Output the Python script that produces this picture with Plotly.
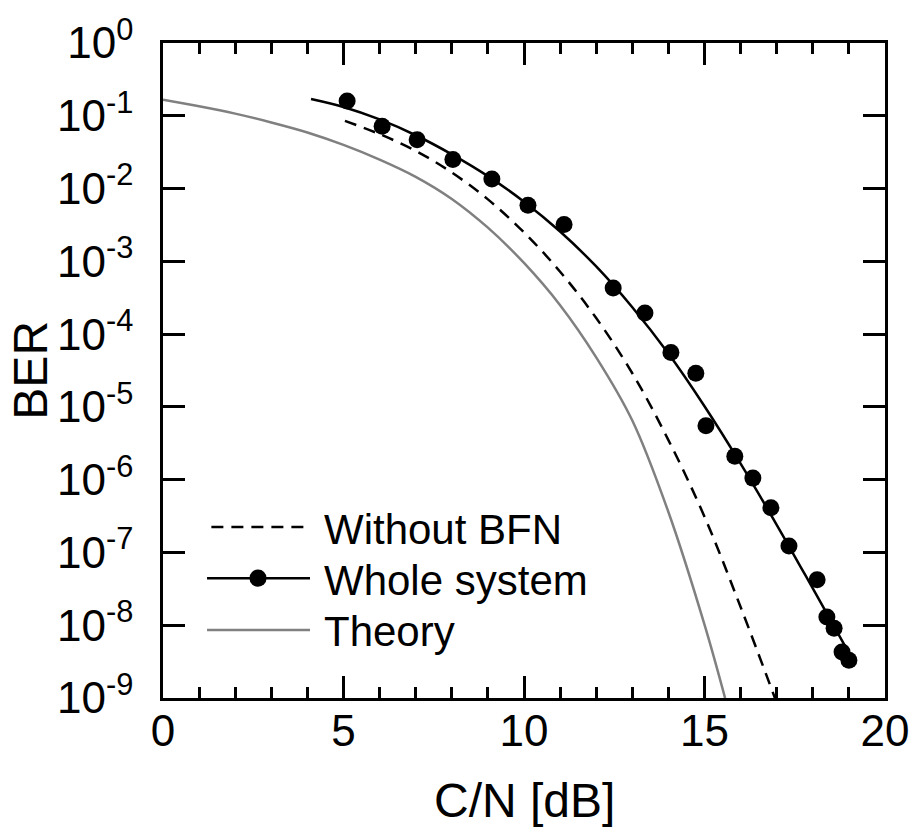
import plotly.graph_objects as go

# ---- data ----
theory_cn = [0, 1, 2, 3, 4, 5, 6, 7, 8, 9, 10, 11, 12, 13, 14, 15, 15.57]
theory_ber = [1.66e-1, 1.35e-1, 1.07e-1, 8.1e-2, 5.9e-2, 3.98e-2, 2.5e-2, 1.45e-2,
              7.2e-3, 2.9e-3, 9.5e-4, 2.5e-4, 4.8e-5, 6.5e-6, 3.6e-7, 1.02e-8, 1.0e-9]

nobfn_cn = [5.04, 6, 7, 8, 9, 10, 11, 12, 13, 14, 15, 16, 16.95]
nobfn_ber = [8.5e-2, 5.6e-2, 3.3e-2, 1.66e-2, 7.1e-3, 2.5e-3, 7.2e-4, 1.66e-4,
             2.9e-5, 3.5e-6, 3.1e-7, 1.78e-8, 1.0e-9]

whole_fit_cn = [4.1, 5, 6, 7, 8, 9, 10, 11, 12, 13, 14, 15, 16, 17, 18, 19.1]
whole_fit_ber = [1.70e-1, 1.32e-1, 8.9e-2, 5.4e-2, 2.95e-2, 1.48e-2, 6.6e-3, 2.57e-3,
                 8.5e-4, 2.34e-4, 5.4e-5, 1.02e-5, 1.66e-6, 2.4e-7, 3.2e-8, 3.4e-9]

whole_pts_cn = [5.10, 6.07, 7.04, 8.03, 9.11, 10.11, 11.11, 12.47, 13.35, 14.07, 14.76,
                15.04, 15.84, 16.34, 16.84, 17.34, 18.12, 18.39, 18.59, 18.81, 19.00]
whole_pts_ber = [1.6e-1, 7.2e-2, 4.7e-2, 2.5e-2, 1.35e-2, 5.9e-3, 3.2e-3, 4.3e-4, 1.95e-4,
                 5.6e-5, 2.9e-5, 5.5e-6, 2.1e-6, 1.05e-6, 4.1e-7, 1.23e-7, 4.2e-8,
                 1.3e-8, 9.1e-9, 4.3e-9, 3.3e-9]

y_tickvals = [1, 1e-1, 1e-2, 1e-3, 1e-4, 1e-5, 1e-6, 1e-7, 1e-8, 1e-9]
y_ticktext = ["10<sup>0</sup>", "10<sup>-1</sup>", "10<sup>-2</sup>", "10<sup>-3</sup>",
              "10<sup>-4</sup>", "10<sup>-5</sup>", "10<sup>-6</sup>", "10<sup>-7</sup>",
              "10<sup>-8</sup>", "10<sup>-9</sup>"]
x_tickvals = [0, 5, 10, 15, 20]
x_ticktext = ["0", "5", "10", "15", "20"]

legend_labels = ["Without BFN", "Whole system", "Theory"]

FONT = "Liberation Sans, Arial, Helvetica, sans-serif"
GRAY = "#808080"

fig = go.Figure()
fig.add_trace(go.Scatter(x=theory_cn, y=theory_ber, mode="lines",
                         line=dict(color=GRAY, width=2.5, shape="spline", smoothing=1.0),
                         showlegend=False))
fig.add_trace(go.Scatter(x=nobfn_cn, y=nobfn_ber, mode="lines",
                         line=dict(color="black", width=2.5, dash="12px,8px", shape="spline"),
                         showlegend=False))
fig.add_trace(go.Scatter(x=whole_fit_cn, y=whole_fit_ber, mode="lines",
                         line=dict(color="black", width=2.5, shape="spline"), showlegend=False))
fig.add_trace(go.Scatter(x=whole_pts_cn, y=whole_pts_ber, mode="markers",
                         marker=dict(color="black", size=17), showlegend=False))

# ---- manual legend (paper coordinates) ----
lx0, lx1, lmk, ltx = 0.061, 0.2036, 0.1316, 0.220
ly = [0.261, 0.183, 0.104]
lty = [0.258, 0.180, 0.101]
fig.add_shape(type="line", xref="paper", yref="paper", x0=lx0 + 0.006, x1=lx1, y0=ly[0], y1=ly[0],
              line=dict(color="black", width=2.5, dash="12px,8px"))
fig.add_shape(type="line", xref="paper", yref="paper", x0=lx0, x1=lx1, y0=ly[1], y1=ly[1],
              line=dict(color="black", width=2.5))
fig.add_shape(type="circle", xref="paper", yref="paper", x0=lmk - 0.0118, x1=lmk + 0.0118,
              y0=ly[1] - 0.013, y1=ly[1] + 0.013, fillcolor="black", line=dict(width=0))
fig.add_shape(type="line", xref="paper", yref="paper", x0=lx0, x1=lx1, y0=ly[2], y1=ly[2],
              line=dict(color=GRAY, width=2.5))
for lab, yy in zip(legend_labels, lty):
    fig.add_annotation(text=lab, xref="paper", yref="paper", x=ltx, y=yy, xanchor="left",
                       yanchor="middle", showarrow=False,
                       font=dict(family=FONT, size=42, color="black"))

# ---- axis titles ----
fig.add_annotation(text="C/N [dB]", xref="paper", yref="paper", x=0.5, y=-0.157,
                   xanchor="center", yanchor="middle", showarrow=False,
                   font=dict(family=FONT, size=48, color="black"))
fig.add_annotation(text="BER", xref="paper", yref="paper", x=-0.184, y=0.5, textangle=-90,
                   xanchor="center", yanchor="middle", showarrow=False,
                   font=dict(family=FONT, size=48, color="black"))

fig.update_layout(
    width=921, height=835,
    margin=dict(l=163, r=36, t=43, b=137),
    paper_bgcolor="white", plot_bgcolor="white",
    font=dict(family=FONT, color="black"),
    showlegend=False,
)
fig.update_xaxes(range=[0, 20], tickvals=x_tickvals, ticktext=x_ticktext,
                 ticks="inside", ticklen=22, tickwidth=2.5, tickcolor="black",
                 minor=dict(dtick=1, ticks="inside", ticklen=11, tickwidth=2.5, tickcolor="black"),
                 showline=True, linecolor="black", linewidth=2.5, mirror="ticks",
                 showgrid=False, zeroline=False,
                 tickfont=dict(family=FONT, size=44, color="black"), ticklabelstandoff=-8)
fig.update_yaxes(type="log", range=[-9, 0], tickvals=y_tickvals, ticktext=y_ticktext,
                 ticks="inside", ticklen=22, tickwidth=2.5, tickcolor="black",
                 showline=True, linecolor="black", linewidth=2.5, mirror="ticks",
                 showgrid=False, zeroline=False,
                 tickfont=dict(family=FONT, size=44, color="black"), ticklabelstandoff=18)

fig.write_html("out.html")
